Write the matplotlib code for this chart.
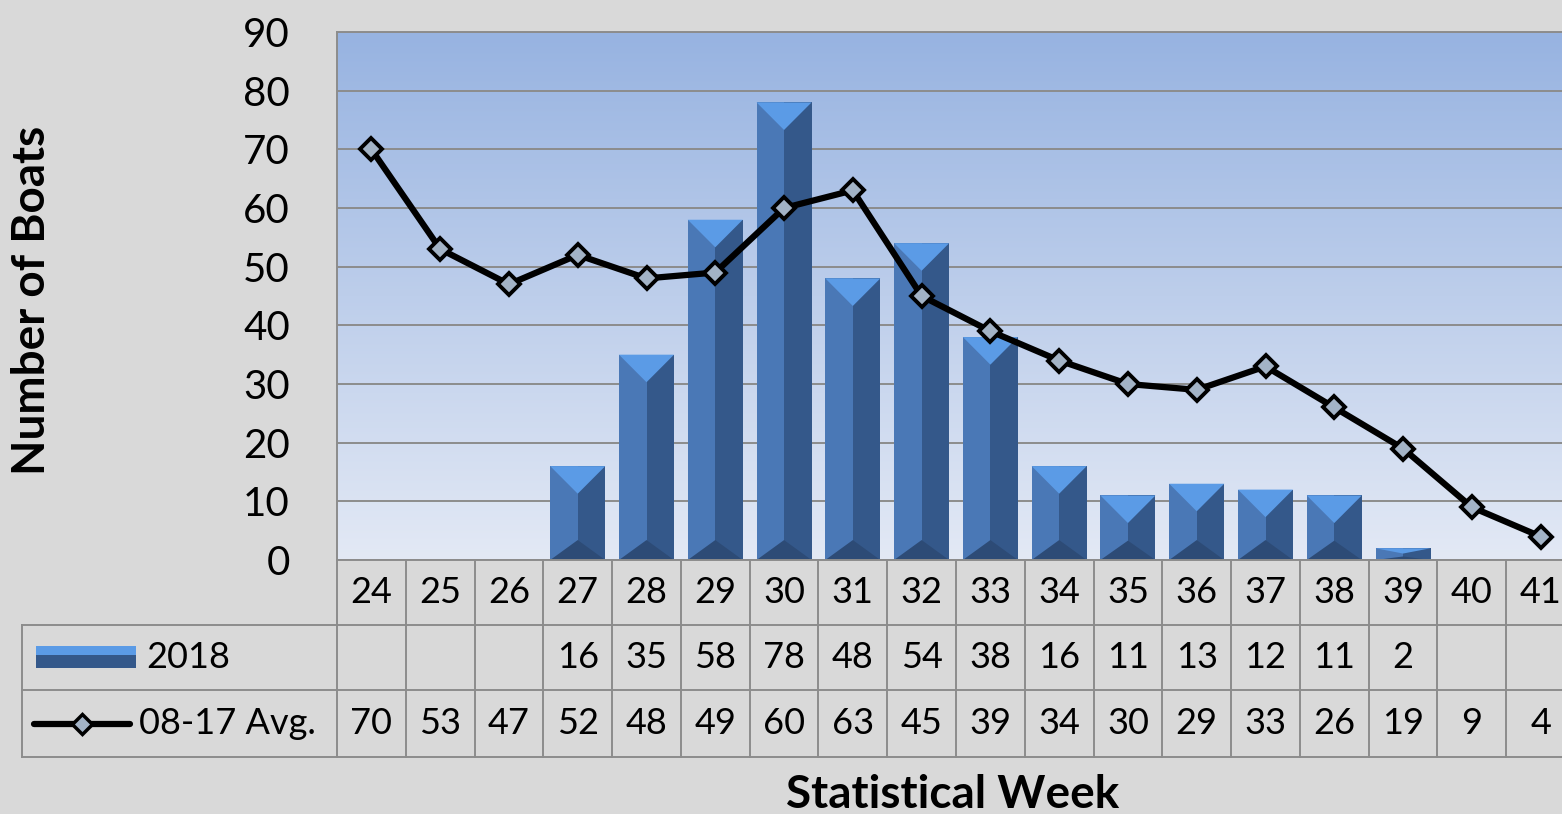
import numpy as np
import matplotlib.pyplot as plt
import matplotlib.transforms as mtransforms
from matplotlib.patches import Polygon, Rectangle
from matplotlib.lines import Line2D
import matplotlib.colors as mcolors

weeks = [24, 25, 26, 27, 28, 29, 30, 31, 32, 33, 34, 35, 36, 37, 38, 39, 40, 41]
boats_2018 = [np.nan, np.nan, np.nan, 16, 35, 58, 78, 48, 54, 38, 16, 11, 13, 12, 11, 2, np.nan, np.nan]
avg_0817 = [70, 53, 47, 52, 48, 49, 60, 63, 45, 39, 34, 30, 29, 33, 26, 19, 9, 4]
row_labels = ["2018", "08-17 Avg."]

plt.rcParams["font.family"] = ["Lato", "DejaVu Sans"]

BG = "#d9d9d9"
GRID = "#8c8c8c"
C_LEFT = "#4a78b6"
C_RIGHT = "#34588a"
C_TOP = "#5b9be6"
C_BOT = "#2d4b76"

W, H = 1562, 814
fig = plt.figure(figsize=(W / 100, H / 100), dpi=100, facecolor=BG)
# plot area runs slightly past the right edge, as in the original
L, R, T, B = 337, 1575, 32, 560
ax = fig.add_axes([L / W, 1 - B / H, (R - L) / W, (B - T) / H])

# gradient plot area
cmap = mcolors.LinearSegmentedColormap.from_list("bg", ["#e3e9f5", "#97b3e1"])
grad = np.linspace(0, 1, 256).reshape(-1, 1)
ax.imshow(grad, extent=[0, 1, 0, 1], transform=ax.transAxes, aspect="auto",
          cmap=cmap, origin="lower", zorder=-1)

n = len(weeks)
xs = np.arange(n)
ax.set_xlim(-0.5, n - 0.5)
ax.set_ylim(0, 90)
ax.set_yticks(range(0, 91, 10))
ax.set_xticks([])
ax.tick_params(axis="y", length=0, pad=34, labelsize=29)
ax.yaxis.grid(True, color=GRID, linewidth=1.4)
ax.set_axisbelow(True)
for s in ax.spines.values():
    s.set_color(GRID)
    s.set_linewidth(1.4)
ax.spines["right"].set_visible(False)

# bevelled bars
bw = 0.8
for x, h in zip(xs, boats_2018):
    if np.isnan(h):
        continue
    x0, x1 = x - bw / 2, x + bw / 2
    dt = min(4.7, 0.45 * h)
    db = min(3.4, 0.3 * h)
    ax.add_patch(Rectangle((x0, 0), bw / 2, h, facecolor=C_LEFT, edgecolor="none", zorder=2))
    ax.add_patch(Rectangle((x, 0), bw / 2, h, facecolor=C_RIGHT, edgecolor="none", zorder=2))
    ax.add_patch(Polygon([(x0, h), (x1, h), (x, h - dt)], closed=True,
                         facecolor=C_TOP, edgecolor="none", zorder=2))
    ax.add_patch(Polygon([(x0, 0), (x1, 0), (x, db)], closed=True,
                         facecolor=C_BOT, edgecolor="none", zorder=2))

ax.plot(xs, avg_0817, color="black", linewidth=4.5, marker="D", markersize=11,
        markerfacecolor="#a3b3c6", markeredgecolor="black", markeredgewidth=2.8,
        zorder=3, clip_on=False)

# data table below the axis
col_w = (R - L) / n
def px2x(p):
    return -0.5 + (p - L) / col_w
def px2y(p):
    return -(p - B) / (B - T)

tr = mtransforms.blended_transform_factory(ax.transData, ax.transAxes)
rows = [560, 625, 690, 757]
x_tab = px2x(22)
line_kw = dict(color=GRID, linewidth=1.4, transform=tr, clip_on=False)
for ry in rows[1:]:
    ax.add_line(Line2D([x_tab, n - 0.5], [px2y(ry)] * 2, **line_kw))
for i in range(n + 1):
    ax.add_line(Line2D([i - 0.5] * 2, [0, px2y(rows[-1])], **line_kw))
ax.add_line(Line2D([x_tab] * 2, [px2y(rows[1]), px2y(rows[-1])], **line_kw))

fs = 26
yc = [px2y((rows[k] + rows[k + 1]) / 2) for k in range(3)]
for x, wk, b, a in zip(xs, weeks, boats_2018, avg_0817):
    ax.text(x, yc[0], str(wk), transform=tr, ha="center", va="center", fontsize=fs)
    if not np.isnan(b):
        ax.text(x, yc[1], str(int(b)), transform=tr, ha="center", va="center", fontsize=fs)
    ax.text(x, yc[2], str(a), transform=tr, ha="center", va="center", fontsize=fs)

# legend keys in table
sx0, sx1 = px2x(36), px2x(136)
sy0, sy1 = px2y(668), px2y(646)
ax.add_patch(Rectangle((sx0, sy0), sx1 - sx0, sy1 - sy0, facecolor=C_RIGHT,
                       edgecolor="none", transform=tr, clip_on=False))
ax.add_patch(Rectangle((sx0, (sy0 + sy1) / 2 + 0.004), sx1 - sx0, (sy1 - sy0) / 2 - 0.004,
                       facecolor=C_TOP, edgecolor="none", transform=tr, clip_on=False))
ax.add_line(Line2D([px2x(34), px2x(130)], [yc[2]] * 2, color="black", linewidth=4.5,
                   transform=tr, clip_on=False, solid_capstyle="round"))
ax.add_line(Line2D([px2x(82)], [yc[2]], marker="D", markersize=10,
                   markerfacecolor="#a3b3c6", markeredgecolor="black",
                   markeredgewidth=2.5, transform=tr, clip_on=False))
ax.text(px2x(146), yc[1], row_labels[0], transform=tr, ha="left", va="center", fontsize=fs)
ax.text(px2x(139), yc[2], row_labels[1], transform=tr, ha="left", va="center", fontsize=fs)

fig.text(953 / W, 1 - 795 / H, "Statistical Week", ha="center", va="center",
         fontsize=33, fontweight="bold")
fig.text(32 / W, 1 - 300 / H, "Number of Boats", ha="center", va="center",
         rotation=90, fontsize=33, fontweight="bold")

fig.savefig("out.png", dpi=100, facecolor=BG)
